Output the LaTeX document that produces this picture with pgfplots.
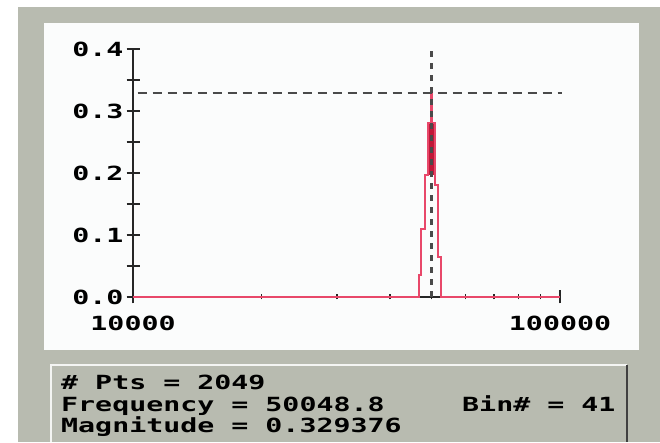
\documentclass[border=0pt]{standalone}
\usepackage{pgfplots}
\pgfplotsset{compat=1.18}
\usepackage{fontspec}
\newfontfamily\lbl[FakeStretch=1.45]{DejaVu Sans Mono Bold}
\newcommand{\lb}[1]{\mbox{\lbl\fontsize{19.5}{21}\selectfont #1}}
\definecolor{framegray}{HTML}{B8BBB0}
\definecolor{panelwhite}{HTML}{FBFCFC}
\definecolor{datared}{HTML}{E8486A}
\definecolor{darkred}{HTML}{C01838}
\definecolor{dashgray}{HTML}{4A4A4A}
\begin{document}
\begin{tikzpicture}[x=1pt,y=1pt]
% page and frame
\fill[white] (0,0) rectangle (660,442);
\fill[framegray] (18,0) rectangle (660,435);
\fill[panelwhite] (44,92) rectangle (639,419);
% info box
\fill[framegray] (50,0) rectangle (628,78);
\draw[white!85!framegray,line width=2] (51,0) -- (51,77) -- (627,77);
\draw[black!75,line width=2] (627,77) -- (627,0);
\node[anchor=base west,inner sep=0] at (61,52) {\lb{\# Pts = 2049}};
\node[anchor=base west,inner sep=0] at (61,30) {\lb{Frequency = 50048.8}};
\node[anchor=base west,inner sep=0] at (462,30) {\lb{Bin\# = 41}};
\node[anchor=base west,inner sep=0] at (61,9) {\lb{Magnitude = 0.329376}};
\begin{semilogxaxis}[
  at={(133pt,145pt)}, anchor=south west,
  scale only axis, width=427pt, height=248pt,
  xmin=10000, xmax=100000, ymin=0, ymax=0.4,
  axis lines=left, axis line style={-, black!85, line width=1.5pt},
  clip=false,
  xtick={10000,100000}, xticklabels={\lb{10000},\lb{100000}},
  ytick={0,0.05,0.1,0.15,0.2,0.25,0.3,0.35,0.4},
  yticklabels={\lb{0.0},,\lb{0.1},,\lb{0.2},,\lb{0.3},,\lb{0.4}},
  tick align=center, major tick length=13pt, minor tick length=5pt,
  tick style={black!85, line width=1.5pt},
  xticklabel style={anchor=center, yshift=-20pt, inner sep=0pt},
  yticklabel style={anchor=east, xshift=-3pt, inner sep=0pt},
]
% dark block at the top of the peak
\addplot[draw=none, fill=darkred] coordinates {(49080,0.197) (49080,0.28) (50970,0.28) (50970,0.197)} -- cycle;
% spectrum outline
\addplot[datared, line width=1.8pt, sharp plot] coordinates {
 (10000,0) (46750,0) (46750,0.035) (47260,0.035) (47260,0.11) (48290,0.11)
 (48290,0.197) (49080,0.197) (49080,0.28) (49900,0.28) (49900,0.329) (50200,0.329)
 (50200,0.28) (50970,0.28) (50970,0.18)
 (51800,0.18) (51800,0.065) (52640,0.065) (52640,0) (100000,0)};
% cursor lines
\addplot[dashgray, line width=2.5pt, dash pattern=on 9pt off 6pt] coordinates {(10250,0.329376) (101000,0.329376)};
\addplot[dashgray, line width=2.5pt, dash pattern=on 6pt off 6pt] coordinates {(50048.8,0) (50048.8,0.403)};
\end{semilogxaxis}
\end{tikzpicture}
\end{document}
